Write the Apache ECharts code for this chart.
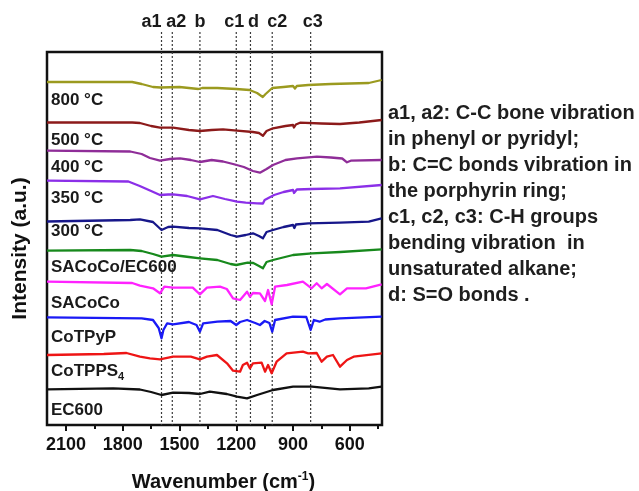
<!DOCTYPE html>
<html>
<head>
<meta charset="UTF-8">
<title>FTIR</title>
<script src="https://cdn.jsdelivr.net/npm/echarts@6.0.0/dist/echarts.min.js"></script>
<style>body{margin:0;background:#fff}</style>
</head>
<body>
<div id="main" style="width: 639px; height: 491px;"></div>
<script>
// [wavenumber, intensity (a.u., stacked offsets)]
var t800 = [[2200,343],[1750,343],[1700,341],[1640,338],[1600,337.5],[1500,338],[1400,336],[1380,337],[1300,337],[1200,336],[1130,335],[1090,332],[1060,328],[1045,331],[1010,337],[950,338],[900,339],[890,336.5],[880,339],[820,340],[700,341],[600,341.5],[500,342],[432,345]];
var t500 = [[2200,302.5],[1750,302.5],[1709,302],[1650,299],[1603,297.3],[1534,297.3],[1450,295],[1392,294],[1330,295],[1270,295.7],[1196,294.3],[1112,293],[1080,292],[1059,289.3],[1040,294],[1006,296.7],[940,299],[900,300],[895,297.5],[885,300.5],[863,302.3],[750,301.5],[652,301],[550,302.5],[432,305]];
var t400 = [[2200,274.3],[1760,273.5],[1700,271],[1656,267],[1603,264.3],[1550,266],[1497,266.7],[1440,265],[1392,263],[1330,265],[1270,263.5],[1217,261],[1160,258],[1112,254],[1075,252.3],[1040,256],[1006,260],[940,265],[879,266.7],[774,268.3],[700,267.5],[640,266.5],[615,262.7],[595,264.3],[432,265]];
var t350 = [[2200,244.3],[1770,243.5],[1710,239],[1650,234],[1603,230],[1560,230.5],[1534,230.7],[1460,229],[1392,225.7],[1323,229],[1260,226],[1196,223.3],[1150,222.3],[1090,221.7],[1059,221.5],[1050,225],[1000,230],[950,233],[900,235],[895,232],[880,235.5],[800,236],[652,236.7],[432,240]];
var t300 = [[2200,203.5],[1760,205],[1709,205.7],[1640,203],[1595,195],[1560,198],[1534,198.3],[1450,197],[1392,196.7],[1300,195],[1230,190],[1196,188.3],[1150,190],[1112,191.7],[1080,189],[1059,186.7],[1040,193],[1006,195],[950,198],[900,200],[893,197],[885,200.5],[820,201.7],[652,202.3],[500,203.3],[432,206.7]];
var saCoCoEC = [[2200,174.3],[1760,175],[1700,174],[1640,171],[1595,168.3],[1534,170],[1450,168],[1392,166.7],[1300,165],[1230,161],[1200,160],[1140,162.3],[1110,162],[1080,159],[1059,156.7],[1040,163],[1006,165],[900,170],[800,171.7],[650,173],[432,175.7]];
var saCoCo = [[2200,143.3],[1750,142],[1709,139.3],[1640,136.7],[1603,131.7],[1580,138.3],[1534,137.3],[1430,137.3],[1392,130.7],[1355,137.3],[1286,138.3],[1250,136],[1217,126.7],[1180,125],[1143,133.3],[1128,128.3],[1112,132],[1075,131.7],[1048,124],[1032,135],[1013,120.7],[995,138.3],[932,140],[848,143.3],[802,136.7],[775,141.7],[749,136.7],[721,141],[652,130.7],[615,136.7],[515,136.7],[432,140.7]];
var coTPyP = [[2200,107.7],[1700,106.7],[1640,105],[1610,97],[1595,86.7],[1585,95],[1565,101.7],[1534,100.7],[1450,103],[1410,100],[1392,93.3],[1375,101.7],[1300,103.3],[1230,104],[1200,100],[1180,103],[1143,105],[1100,102],[1075,100],[1050,104],[1025,102],[1010,93.3],[995,105],[900,108.3],[830,108],[807,95],[790,105],[760,103.3],[730,105.5],[652,106.7],[432,108.3]];
var coTPPS4 = [[2200,70],[1900,71],[1780,72],[1709,68.3],[1656,66.7],[1603,65.7],[1534,68.3],[1440,68.3],[1392,65.7],[1355,68.3],[1302,70],[1249,61.7],[1217,54.3],[1180,53.3],[1165,60],[1143,62.3],[1128,56.7],[1112,61.7],[1066,62.3],[1048,53.3],[1032,60],[1013,51.7],[987,63.3],[934,71.7],[848,73.3],[820,71.7],[775,72],[749,63.3],[721,68.3],[689,70],[652,58.3],[615,65],[580,68.3],[432,71.7]];
var ec600 = [[2200,35.7],[1850,36.7],[1709,35.5],[1650,33],[1595,30],[1534,32.3],[1450,32],[1392,31],[1340,33.3],[1250,31],[1196,28.3],[1143,26.7],[1090,30],[1006,35],[900,38.3],[800,38.3],[652,35.7],[500,36.7],[432,38.3]];

var seriesNames = ['800 °C','500 °C','400 °C','350 °C','300 °C','SACoCo/EC600','SACoCo','CoTPyP','CoTPPS4','EC600'];
var seriesData = [t800, t500, t400, t350, t300, saCoCoEC, saCoCo, coTPyP, coTPPS4, ec600];
var colors = ['#9b9a1f','#8c1a1a','#8f2d98','#8b2fe8','#17178a','#17891c','#ff22ff','#1a1af5','#ee1515','#111111'];
var labelY = [100, 140, 167, 198, 231, 267, 303, 337, 371, 410];

var peakNames = ['a1','a2','b','c1','d','c2','c3'];
var peakPositions = [1595, 1538, 1392, 1200, 1125, 1010, 807];
var peakLabelShift = [-10, 4, 0, -2, 3, 5, 2];
var peakLineTop = 393; // guides run a little above the frame

var majorTicks = [2100, 1800, 1500, 1200, 900, 600];
var minorTicks = [1950, 1650, 1350, 1050, 750, 450];

var notes = [
  'a1, a2: C-C bone vibration',
  'in phenyl or pyridyl;',
  'b: C=C bonds vibration in',
  'the porphyrin ring;',
  'c1, c2, c3: C-H groups',
  'bending vibration  in',
  'unsaturated alkane;',
  'd: S=O bonds .'
];

var FONT = '"Liberation Sans", Arial, sans-serif';
var myChart = echarts.init(document.getElementById('main'));

var series = seriesData.map(function (d, i) {
  return {
    name: seriesNames[i], type: 'line', data: d, showSymbol: false,
    lineStyle: { color: colors[i], width: 2.3, join: 'round' }, itemStyle: { color: colors[i] },
    silent: true, z: 3
  };
});
series.push({ type: 'line', data: [], xAxisIndex: 1, yAxisIndex: 1 });

var graphics = seriesNames.map(function (n, i) {
  var txt = n === 'CoTPPS4' ? 'CoTPPS{sub|4}' : n;
  return {
    type: 'text', x: 51, y: labelY[i], z: 10,
    style: {
      text: txt, font: 'bold 17px ' + FONT, fill: '#1a1a1a', verticalAlign: 'middle',
      rich: { sub: { fontSize: 11, fontWeight: 'bold', fontFamily: FONT, fill: '#1a1a1a', padding: [11, 0, 0, 0] } }
    }
  };
});
graphics.push({
  type: 'text', x: 388, y: 100,
  style: { text: notes.join('\n'), font: 'bold 20px ' + FONT, fill: '#1e1e1e', lineHeight: 26 }
});

var option = {
  animation: false,
  backgroundColor: '#fff',
  grid: [
    { left: 47, right: 257, top: 52, bottom: 66, outerBoundsMode: 'none', show: true, borderColor: '#111', borderWidth: 2.5 },
    { left: 47, right: 257, top: 52, bottom: 66, outerBoundsMode: 'none', show: false }
  ],
  xAxis: [{
    type: 'value', inverse: true, min: 430, max: 2200,
    axisLine: { show: false }, splitLine: { show: false },
    axisTick: { show: true, inside: false, length: 6, customValues: majorTicks, lineStyle: { color: '#111', width: 2 } },
    axisLabel: { customValues: majorTicks, margin: 11, fontSize: 18, fontWeight: 'bold', fontFamily: FONT, color: '#111',
      formatter: function (v) { return String(v); } },
    name: 'Wavenumber (cm{sup|-1})', nameLocation: 'middle', nameGap: 46,
    nameTextStyle: { fontSize: 20, fontWeight: 'bold', fontFamily: FONT, color: '#111', padding: [0, 0, 0, 18],
      rich: { sup: { fontSize: 12, fontWeight: 'bold', fontFamily: FONT, color: '#111', padding: [0, 0, 11, 0] } } }
  }, {
    gridIndex: 1, type: 'value', inverse: true, min: 430, max: 2200,
    axisLine: { show: false }, splitLine: { show: false },
    axisTick: { show: true, inside: false, length: 4, customValues: minorTicks, lineStyle: { color: '#111', width: 2 } },
    axisLabel: { show: false }
  }],
  yAxis: [{
    type: 'value', min: 0, max: 373,
    axisLine: { show: false }, axisTick: { show: false }, axisLabel: { show: false }, splitLine: { show: false },
    name: 'Intensity (a.u.)', nameLocation: 'middle', nameGap: 16, nameRotate: 90,
    nameTextStyle: { fontSize: 21, fontWeight: 'bold', fontFamily: FONT, color: '#111', padding: [0, 20, 0, 0] }
  }, {
    gridIndex: 1, type: 'value', min: 0, max: 373, show: false
  }],
  series: series,
  graphic: graphics
};

myChart.setOption(option);

// dotted peak guides and their letters, placed through the axis scales
var peakGraphics = [];
peakPositions.forEach(function (p, i) {
  var top = myChart.convertToPixel({ xAxisIndex: 0, yAxisIndex: 0 }, [p, peakLineTop]);
  var bottom = myChart.convertToPixel({ xAxisIndex: 0, yAxisIndex: 0 }, [p, 0]);
  peakGraphics.push({
    type: 'line', z: 1, silent: true,
    shape: { x1: top[0], y1: top[1], x2: bottom[0], y2: bottom[1] },
    style: { stroke: '#3a3a3a', lineWidth: 1.2, lineDash: [2, 2] }
  });
  peakGraphics.push({
    type: 'text', x: top[0] + peakLabelShift[i], y: 22,
    style: { text: peakNames[i], font: 'bold 18px ' + FONT, fill: '#1a1a1a', align: 'center', verticalAlign: 'middle' }
  });
});
myChart.setOption({ graphic: graphics.concat(peakGraphics) });
</script>
</body>
</html>
